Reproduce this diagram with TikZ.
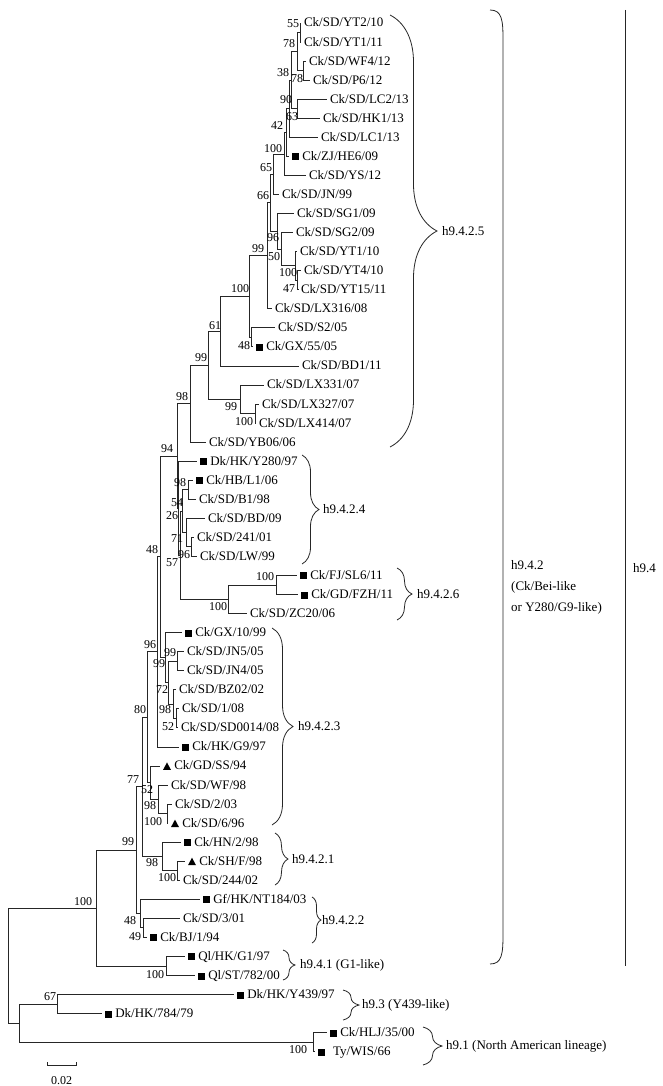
\documentclass[tikz,border=0pt]{standalone}
\usepackage{fontspec}
\setmainfont{Liberation Serif}
\usetikzlibrary{decorations.pathreplacing}

\newcommand{\leaffont}{\fontsize{13}{15}\selectfont}
\newcommand{\bsfont}{\fontsize{12}{14}\selectfont}
\newcommand{\rowy}[1]{3.95+(#1)*19.05}
\newcommand{\sqm}{\rule{7pt}{7pt}}
\newcommand{\tri}{\tikz[baseline=0pt]\fill (0pt,0pt)--(8pt,0pt)--(4pt,7.5pt)--cycle;}

\tikzset{
  branch/.style={draw=black!85, line width=0.8pt},
  leaf/.style={anchor=west, inner xsep=3pt, inner ysep=0pt, outer sep=0pt,
    text height=9.5pt, text depth=1.5pt, font=\leaffont},
  boot/.style={inner sep=0pt, font=\bsfont},
  clade/.style={anchor=west, inner sep=0pt, font=\leaffont},
  cbrace/.style={decorate, decoration={brace, amplitude=#1},
    draw=black!85, line width=0.8pt}
}

\begin{document}
\begin{tikzpicture}[x=1pt, y=-1pt]
    \useasboundingbox (0,0) rectangle (662,1086);

    % taxa, top to bottom
    \foreach \x/\t [count=\n] in {
        301/{Ck/SD/YT2/10}, 301/{Ck/SD/YT1/11}, 306/{Ck/SD/WF4/12},
        310/{Ck/SD/P6/12}, 327/{Ck/SD/LC2/13}, 320/{Ck/SD/HK1/13},
        318/{Ck/SD/LC1/13}, 289/{\sqm\ Ck/ZJ/HE6/09}, 306/{Ck/SD/YS/12},
        279/{Ck/SD/JN/99}, 294/{Ck/SD/SG1/09}, 293/{Ck/SD/SG2/09},
        297/{Ck/SD/YT1/10}, 301/{Ck/SD/YT4/10}, 298/{Ck/SD/YT15/11},
        272/{Ck/SD/LX316/08}, 275/{Ck/SD/S2/05}, 253/{\sqm\ Ck/GX/55/05},
        299/{Ck/SD/BD1/11}, 264/{Ck/SD/LX331/07}, 259/{Ck/SD/LX327/07},
        256/{Ck/SD/LX414/07}, 206/{Ck/SD/YB06/06}, 197/{\sqm\ Dk/HK/Y280/97},
        193/{\sqm\ Ck/HB/L1/06}, 196/{Ck/SD/B1/98}, 205/{Ck/SD/BD/09},
        194/{Ck/SD/241/01}, 197/{Ck/SD/LW/99}, 297/{\sqm\ Ck/FJ/SL6/11},
        298/{\sqm\ Ck/GD/FZH/11}, 247/{Ck/SD/ZC20/06}, 182/{\sqm\ Ck/GX/10/99},
        184/{Ck/SD/JN5/05}, 184/{Ck/SD/JN4/05}, 176/{Ck/SD/BZ02/02},
        179/{Ck/SD/1/08}, 178/{Ck/SD/SD0014/08}, 179/{\sqm\ Ck/HK/G9/97},
        160/{\tri\ Ck/GD/SS/94}, 168/{Ck/SD/WF/98}, 172/{Ck/SD/2/03},
        168/{\tri\ Ck/SD/6/96}, 181/{\sqm\ Ck/HN/2/98}, 185/{\tri\ Ck/SH/F/98},
        180/{Ck/SD/244/02}, 200/{\sqm\ Gf/HK/NT184/03}, 180/{Ck/SD/3/01},
        147/{\sqm\ Ck/BJ/1/94}, 185/{\sqm\ Ql/HK/G1/97}, 195/{\sqm\ Ql/ST/782/00},
        234/{\sqm\ Dk/HK/Y439/97}, 102/{\sqm\ Dk/HK/784/79},
        327/{\sqm\ Ck/HLJ/35/00}, 315/{\sqm\hspace{8pt}Ty/WIS/66}}
        \node[leaf] (l\n) at (\x,{\rowy{\n}}) {\t};

    % internal nodes (x, row)
    \coordinate (A) at (300,{\rowy{1.5}});
    \coordinate (C) at (303,{\rowy{3.5}});
    \coordinate (B) at (297,{\rowy{2.5}});
    \coordinate (D) at (297,{\rowy{5.5}});
    \coordinate (E) at (291,{\rowy{4}});
    \coordinate (F) at (289,{\rowy{5.5}});
    \coordinate (G) at (286,{\rowy{6.75}});
    \coordinate (H) at (284,{\rowy{7.875}});
    \coordinate (I) at (273,{\rowy{8.9375}});
    \coordinate (N) at (297.5,{\rowy{14.5}});
    \coordinate (M) at (295,{\rowy{13.75}});
    \coordinate (Q) at (281,{\rowy{12.875}});
    \coordinate (K) at (277,{\rowy{11.9375}});
    \coordinate (J) at (270,{\rowy{10.4375}});
    \coordinate (P) at (267,{\rowy{13.21875}});
    \coordinate (S) at (251,{\rowy{17.5}});
    \coordinate (T) at (249.5,{\rowy{15.359}});
    \coordinate (U) at (220,{\rowy{17.18}});
    \coordinate (W) at (255,{\rowy{21.5}});
    \coordinate (V) at (240,{\rowy{20.75}});
    \coordinate (X) at (208,{\rowy{18.965}});
    \coordinate (Y) at (190,{\rowy{20.982}});
    \coordinate (n98c) at (188,{\rowy{25.5}});
    \coordinate (n96b) at (191,{\rowy{28.5}});
    \coordinate (n71) at (186,{\rowy{27.75}});
    \coordinate (n54) at (182,{\rowy{26.625}});
    \coordinate (n100h) at (276,{\rowy{30.5}});
    \coordinate (n100e) at (228,{\rowy{31.25}});
    \coordinate (n57) at (180,{\rowy{28.9375}});
    \coordinate (n26) at (178,{\rowy{26.469}});
    \coordinate (n94) at (177,{\rowy{23.726}});
    \coordinate (n99d) at (177,{\rowy{34.5}});
    \coordinate (n52b) at (176,{\rowy{37.5}});
    \coordinate (n98f) at (173,{\rowy{36.75}});
    \coordinate (n72) at (168,{\rowy{35.625}});
    \coordinate (n99c) at (165,{\rowy{34.3125}});
    \coordinate (n48) at (160,{\rowy{29.019}});
    \coordinate (n96) at (157,{\rowy{34.01}});
    \coordinate (n100f) at (167,{\rowy{42.5}});
    \coordinate (n98e) at (158,{\rowy{41.75}});
    \coordinate (n52) at (150,{\rowy{40.875}});
    \coordinate (n80) at (147,{\rowy{37.442}});
    \coordinate (n100g) at (177,{\rowy{45.5}});
    \coordinate (n98d) at (162,{\rowy{44.75}});
    \coordinate (n77) at (142,{\rowy{41.096}});
    \coordinate (n49) at (143,{\rowy{48.5}});
    \coordinate (n48b) at (140,{\rowy{47.75}});
    \coordinate (n99) at (136,{\rowy{44.423}});
    \coordinate (n100i) at (166,{\rowy{50.5}});
    \coordinate (n100) at (96,{\rowy{47.46}});
    \coordinate (n67) at (57,{\rowy{52.5}});
    \coordinate (n100j) at (313,{\rowy{54.5}});
    \coordinate (nlow) at (19,{\rowy{53.5}});
    \coordinate (root) at (8,{\rowy{50.48}});

    % branches
    \foreach \p/\cs in {A/{l1.west,l2.west}, C/{l3.west,l4.west}, B/{A,C},
        D/{l5.west,l6.west}, E/{B,D}, F/{E,l7.west}, G/{F,l8.west},
        H/{G,l9.west}, I/{H,l10.west}, N/{l14.west,l15.west},
        M/{l13.west,N}, Q/{l12.west,M}, K/{l11.west,Q}, J/{I,K},
        P/{J,l16.west}, S/{l17.west,l18.west}, T/{P,S}, U/{T,l19.west},
        W/{l21.west,l22.west}, V/{l20.west,W}, X/{U,V}, Y/{X,l23.west},
        n98c/{l25.west,l26.west}, n96b/{l28.west,l29.west},
        n71/{l27.west,n96b}, n54/{n98c,n71}, n100h/{l30.west,l31.west},
        n100e/{n100h,l32.west}, n57/{n54,n100e}, n26/{l24.west,n57},
        n94/{Y,n26}, n99d/{l34.west,l35.west}, n52b/{l37.west,l38.west},
        n98f/{l36.west,n52b}, n72/{n99d,n98f}, n99c/{l33.west,n72},
        n48/{n94,n99c}, n96/{n48,l39.west}, n100f/{l42.west,l43.west},
        n98e/{l41.west,n100f}, n52/{l40.west,n98e}, n80/{n96,n52},
        n100g/{l45.west,l46.west}, n98d/{l44.west,n100g}, n77/{n80,n98d},
        n49/{l48.west,l49.west}, n48b/{l47.west,n49}, n99/{n77,n48b},
        n100i/{l50.west,l51.west}, n100/{n99,n100i}, n67/{l52.west,l53.west},
        n100j/{l54.west,l55.west}, nlow/{n67,n100j}, root/{n100,nlow}}
        \foreach \c in \cs
            \draw[branch] (\p) |- (\c);

    % bootstrap values
    \foreach \x/\y/\v [count=\n] in {
        293/24/55, 289/44/78, 283/73/38, 297/79/78, 286/100/90, 292/117/63,
        277/126/42, 273/149/100, 266/168/65, 263/196/66, 273/238/96,
        258/249/99, 274/257/50, 288/273/100, 289/289/47, 240/289/100,
        215/326/61, 244/346/48, 201/358/99, 182/397/98, 231/407/99,
        244/422/100, 167/449/94, 180/483/98, 177/503/54, 172/516/26,
        177/539/71, 184/555/96, 172/563/57, 152/550/48, 265/577/100,
        218/607/100, 150/645/96, 170/653/99, 159/664/99, 162/690/72,
        165/710/98, 168/727/52, 140/710/80, 133/780/77, 147/790/52,
        150/806/98, 153/822/100, 128/842/99, 152/863/98, 167/878/100,
        83/902/100, 130/921/48, 135/937/49, 155/975/100, 50/997/67,
        298/1050/100}
        \node[boot] (b\n) at (\x,\y) {\v};

    % clade braces
    \foreach \xa/\ya/\yb/\am/\xt/\t [count=\n] in {
        390/15/447/47/442/{h9.4.2.5}, 302/455/564/17/323/{h9.4.2.4},
        397/568/620/15/417/{h9.4.2.6}, 272/628/825/21/298/{h9.4.2.3},
        275/833/885/13/292/{h9.4.2.1}, 312/897/943/9/322/{h9.4.2.2},
        283/950/980/12/300/{h9.4.1 (G1-like)},
        343/990/1020/16/362/{h9.3 (Y439-like)},
        423/1027/1065/19/446/{h9.1 (North American lineage)}}
    {
        \coordinate (c\n t) at (\xa,\ya);
        \coordinate (c\n b) at (\xa,\yb);
        \draw[cbrace=\am] (c\n t) -- (c\n b);
        \node[clade] (k\n) at (\xt,{(\ya+\yb)/2}) {\t};
    }

    % h9.4.2 bracket and h9.4 line
    \coordinate (g0) at (490,10);
    \coordinate (g1) at (490,964);
    \draw[branch] (g0) .. controls (502,10) and (503,20) .. (503,40)
        -- (503,934) .. controls (503,954) and (502,964) .. (g1);
    \node[clade, align=left, font=\fontsize{13}{21}\selectfont]
        (k942) at (511,587) {h9.4.2\\(Ck/Bei-like\\or Y280/G9-like)};
    \coordinate (h0) at (625,10);
    \coordinate (h1) at (625,966);
    \draw[branch] (h0) -- (h1);
    \node[clade] (k94) at (633,568) {h9.4};

    % scale bar
    \coordinate (s0) at (47,1065);
    \coordinate (s1) at (76,1065);
    \draw[branch] ([yshift=3pt]s0) -- (s0) -- (s1) -- ([yshift=3pt]s1);
    \node[boot] (sc) at (61.5,1081) {0.02};
\end{tikzpicture}
\end{document}
